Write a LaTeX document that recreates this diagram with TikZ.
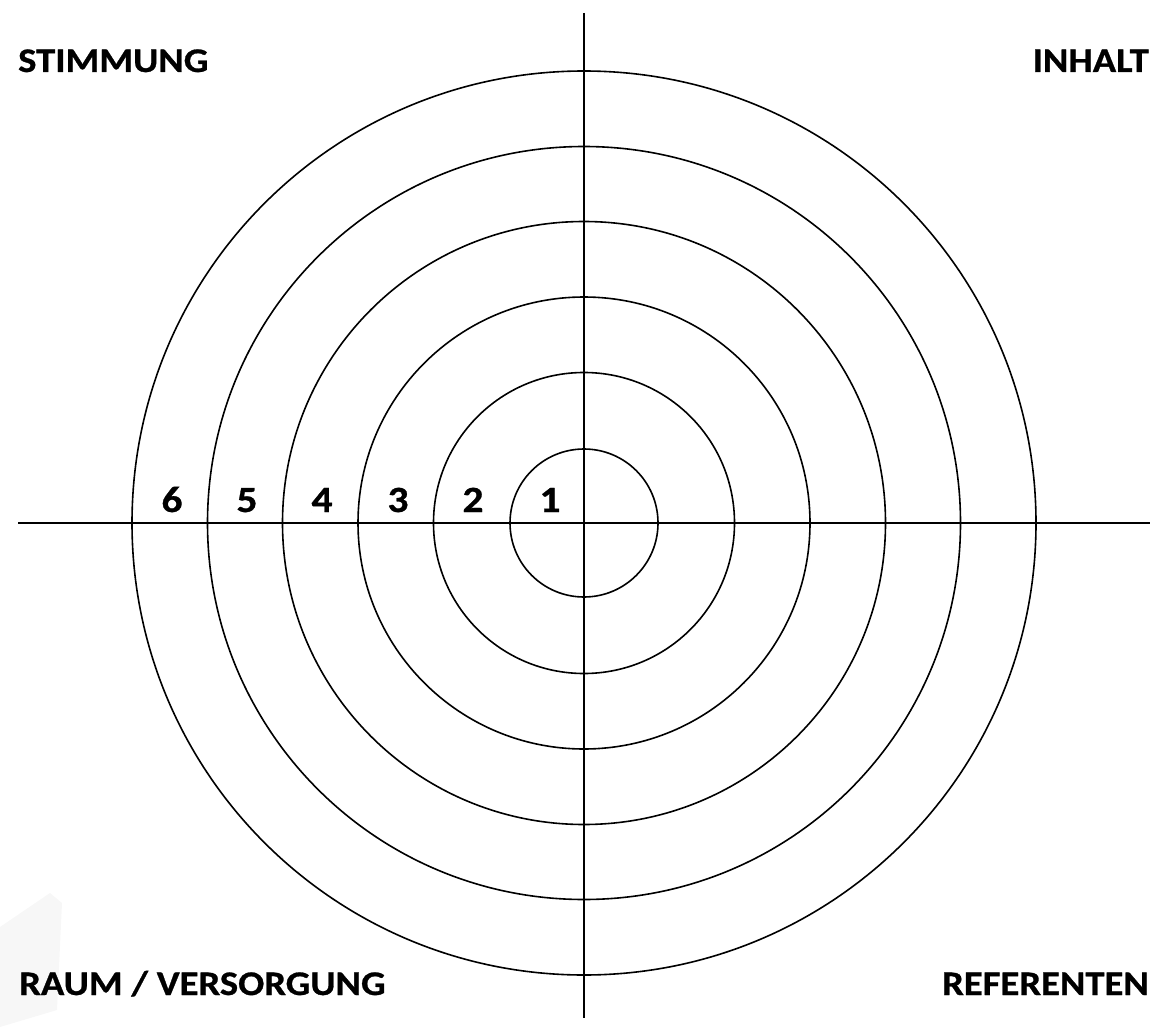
\documentclass[tikz,border=0pt]{standalone}
\usepackage{fontspec}
\newfontfamily\lblfont[FakeStretch=1.12,FakeBold=0.8]{Carlito}
\begin{document}
\begin{tikzpicture}[x=1pt,y=-1pt,
  ring/.style={draw=black,line width=1.6pt},
  axis/.style={draw=black,line width=1.6pt},
  corner/.style={inner sep=0pt,font=\lblfont\bfseries\fontsize{34.5}{37}\selectfont},
  num/.style={inner sep=0pt,anchor=base,font=\lblfont\bfseries\fontsize{37}{40}\selectfont}]
\useasboundingbox (0,0) rectangle (1156,1027);
\fill[gray!6] (0,927) -- (50,893) -- (62,903) -- (57,1010) -- (0,1027) -- cycle;
\coordinate (c) at (584,523);
\foreach \r in {74,150.5,226,301.5,376.5,452} \draw[ring] (c) circle[radius=\r];
\coordinate (l) at (18,523);
\coordinate (r) at (1150,523);
\coordinate (t) at (584,13);
\coordinate (b) at (584,1018);
\draw[axis] (l) -- (r);
\draw[axis] (t) -- (b);
\node[corner,anchor=base west] (stimmung) at (18,72) {STIMMUNG};
\node[corner,anchor=base east] (inhalt) at (1149,72) {INHALT};
\node[corner,anchor=base west] (raum) at (19,995) {RAUM / VERSORGUNG};
\node[corner,anchor=base east] (referenten) at (1149,995) {REFERENTEN};
\node[num] (n6) at (172,512) {6};
\node[num] (n5) at (247,512) {5};
\node[num] (n4) at (322,512) {4};
\node[num] (n3) at (398,512) {3};
\node[num] (n2) at (473,512) {2};
\node[num] (n1) at (550,512) {1};
\end{tikzpicture}
\end{document}
